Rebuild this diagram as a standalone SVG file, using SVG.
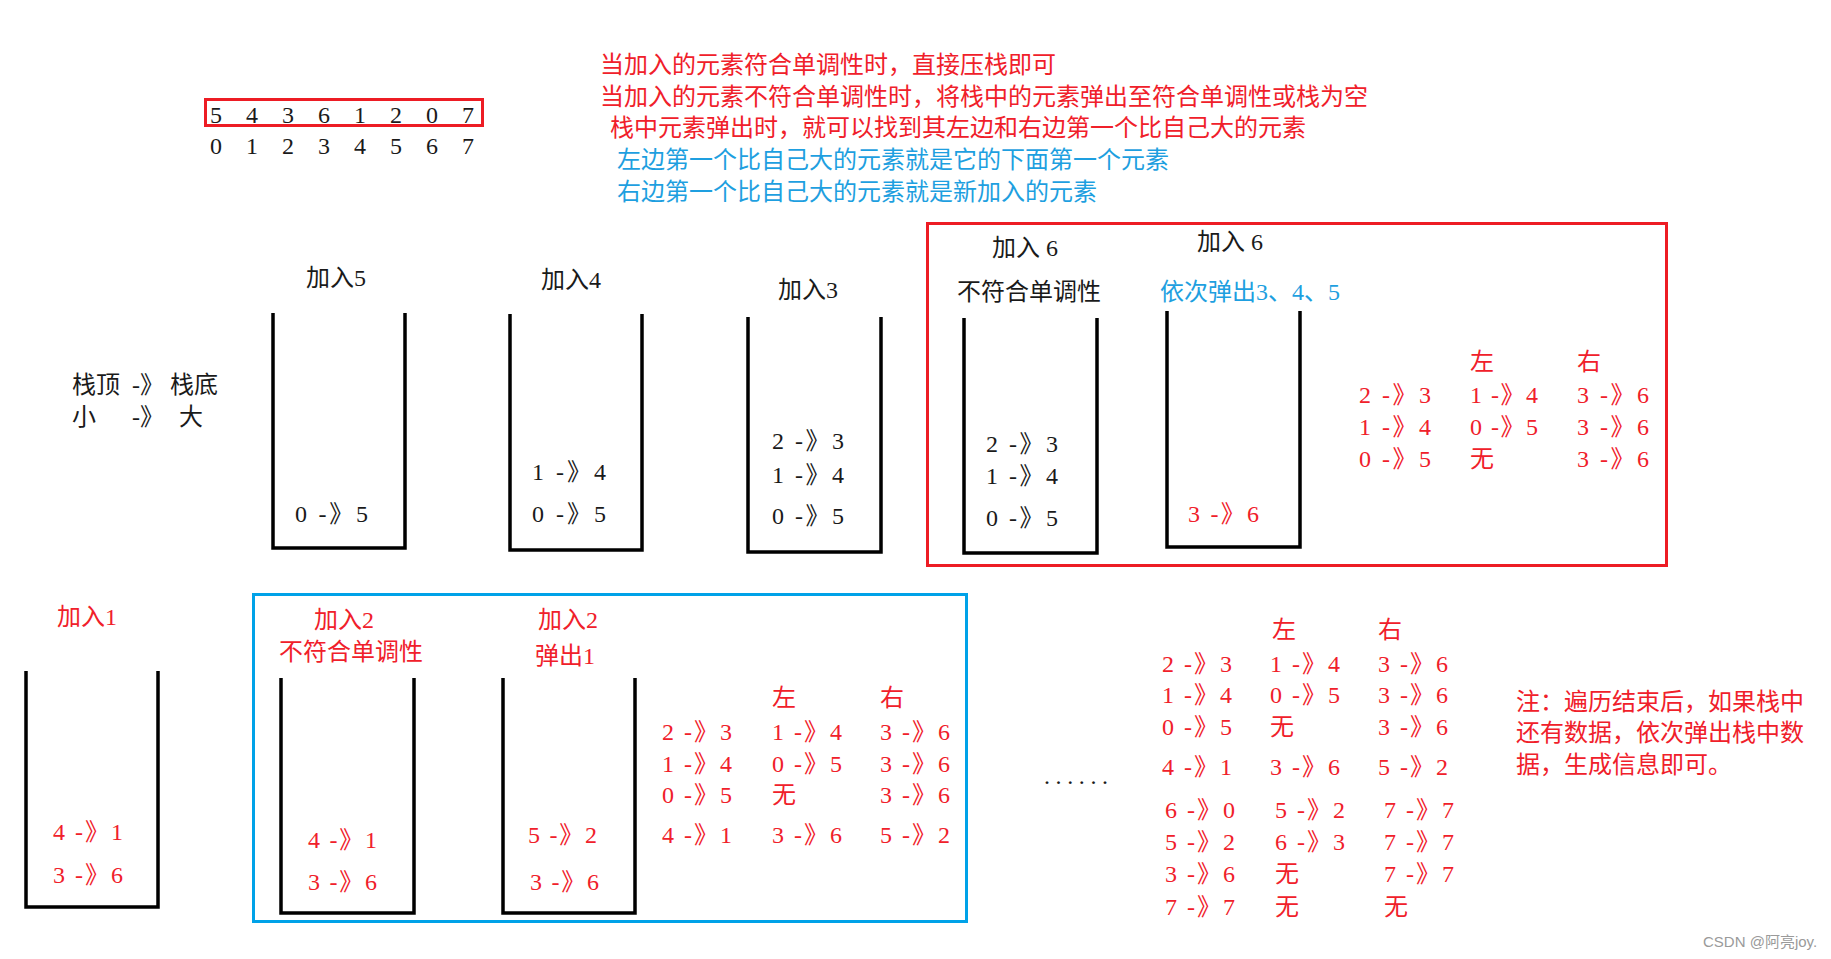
<svg xmlns="http://www.w3.org/2000/svg" width="1831" height="959" viewBox="0 0 1831 959">
<style>
text{font-family:"Liberation Serif","Noto Sans CJK SC",serif;font-size:24px;white-space:pre}
.k{fill:#1a1a1a}
.r{fill:#f0202a}
.b{fill:#1e9fe0}
.st{fill:none;stroke:#000;stroke-width:3.5}
.rb{fill:none;stroke:#ed1c24;stroke-width:3}
.bb{fill:none;stroke:#00a2e8;stroke-width:3}
.mid{text-anchor:middle}
.wm{fill:#9a9a9a;font-family:"Liberation Sans","Noto Sans CJK SC",sans-serif;font-size:15px}
</style>
<rect width="1831" height="959" fill="#fff"/>

<g id="sequence">
<rect class="rb" x="205.5" y="99.5" width="277" height="26"/>
<text class="k mid" y="123"><tspan x="216">5</tspan><tspan x="252">4</tspan><tspan x="288">3</tspan><tspan x="324">6</tspan><tspan x="360">1</tspan><tspan x="396">2</tspan><tspan x="432">0</tspan><tspan x="468">7</tspan></text>
<text class="k mid" y="154"><tspan x="216">0</tspan><tspan x="252">1</tspan><tspan x="288">2</tspan><tspan x="324">3</tspan><tspan x="360">4</tspan><tspan x="396">5</tspan><tspan x="432">6</tspan><tspan x="468">7</tspan></text>
</g>

<g id="notes-top">
<text class="r" x="600" y="73">当加入的元素符合单调性时，直接压栈即可</text>
<text class="r" x="600" y="105">当加入的元素不符合单调性时，将栈中的元素弹出至符合单调性或栈为空</text>
<text class="r" x="610" y="136">栈中元素弹出时，就可以找到其左边和右边第一个比自己大的元素</text>
<text class="b" x="617" y="168">左边第一个比自己大的元素就是它的下面第一个元素</text>
<text class="b" x="617" y="200">右边第一个比自己大的元素就是新加入的元素</text>
</g>

<g id="legend">
<text class="k" y="393"><tspan x="72">栈顶</tspan><tspan x="132">-》</tspan><tspan x="170">栈底</tspan></text>
<text class="k" y="425"><tspan x="72">小</tspan><tspan x="132">-》</tspan><tspan x="179">大</tspan></text>
</g>

<g id="stack-add5">
<text class="k" x="306" y="286">加入5</text>
<polyline class="st" points="273,313 273,548 405,548 405,313"/>
<text class="k" x="295" y="522" textLength="73" lengthAdjust="spacing">0 -》5</text>
</g>

<g id="stack-add4">
<text class="k" x="541" y="288">加入4</text>
<polyline class="st" points="510,314 510,550 642,550 642,314"/>
<text class="k" x="532" y="480" textLength="74" lengthAdjust="spacing">1 -》4</text>
<text class="k" x="532" y="522" textLength="74" lengthAdjust="spacing">0 -》5</text>
</g>

<g id="stack-add3">
<text class="k" x="778" y="298">加入3</text>
<polyline class="st" points="748,317 748,552 881,552 881,317"/>
<text class="k" x="772" y="449" textLength="72" lengthAdjust="spacing">2 -》3</text>
<text class="k" x="772" y="483" textLength="72" lengthAdjust="spacing">1 -》4</text>
<text class="k" x="772" y="524" textLength="72" lengthAdjust="spacing">0 -》5</text>
</g>

<g id="group-add6">
<rect class="rb" x="927.5" y="223.5" width="739" height="342"/>
</g>

<g id="stack-add6-a">
<text class="k" x="992" y="256">加入 6</text>
<text class="k" x="957" y="300">不符合单调性</text>
<polyline class="st" points="964,318 964,553 1097,553 1097,318"/>
<text class="k" x="986" y="452" textLength="72" lengthAdjust="spacing">2 -》3</text>
<text class="k" x="986" y="484" textLength="72" lengthAdjust="spacing">1 -》4</text>
<text class="k" x="986" y="526" textLength="72" lengthAdjust="spacing">0 -》5</text>
</g>

<g id="stack-add6-b">
<text class="k" x="1197" y="250">加入 6</text>
<text class="b" x="1160" y="300">依次弹出3、4、5</text>
<polyline class="st" points="1167,311 1167,547 1300,547 1300,311"/>
<text class="r" x="1188" y="522" textLength="71" lengthAdjust="spacing">3 -》6</text>
</g>

<g id="table-add6">
<text class="r" x="1470" y="370">左</text>
<text class="r" x="1577" y="370">右</text>
<text class="r" x="1359" y="403" textLength="72" lengthAdjust="spacing">2 -》3</text>
<text class="r" x="1470" y="403" textLength="68" lengthAdjust="spacing">1 -》4</text>
<text class="r" x="1577" y="403" textLength="72" lengthAdjust="spacing">3 -》6</text>
<text class="r" x="1359" y="435" textLength="72" lengthAdjust="spacing">1 -》4</text>
<text class="r" x="1470" y="435" textLength="68" lengthAdjust="spacing">0 -》5</text>
<text class="r" x="1577" y="435" textLength="72" lengthAdjust="spacing">3 -》6</text>
<text class="r" x="1359" y="467" textLength="72" lengthAdjust="spacing">0 -》5</text>
<text class="r" x="1470" y="467">无</text>
<text class="r" x="1577" y="467" textLength="72" lengthAdjust="spacing">3 -》6</text>
</g>

<g id="stack-add1">
<text class="r" x="57" y="625">加入1</text>
<polyline class="st" points="26,671 26,907 158,907 158,671"/>
<text class="r" x="53" y="840" textLength="70" lengthAdjust="spacing">4 -》1</text>
<text class="r" x="53" y="883" textLength="70" lengthAdjust="spacing">3 -》6</text>
</g>

<g id="group-add2">
<rect class="bb" x="253.5" y="594.5" width="713" height="327"/>
</g>

<g id="stack-add2-a">
<text class="r" x="314" y="628">加入2</text>
<text class="r" x="279" y="660">不符合单调性</text>
<polyline class="st" points="281,678 281,913 414,913 414,678"/>
<text class="r" x="308" y="848" textLength="69" lengthAdjust="spacing">4 -》1</text>
<text class="r" x="308" y="890" textLength="69" lengthAdjust="spacing">3 -》6</text>
</g>

<g id="stack-add2-b">
<text class="r" x="538" y="628">加入2</text>
<text class="r" x="535" y="664">弹出1</text>
<polyline class="st" points="503,678 503,913 635,913 635,678"/>
<text class="r" x="528" y="843" textLength="69" lengthAdjust="spacing">5 -》2</text>
<text class="r" x="530" y="890" textLength="69" lengthAdjust="spacing">3 -》6</text>
</g>

<g id="table-add2">
<text class="r" x="772" y="706">左</text>
<text class="r" x="880" y="706">右</text>
<text class="r" x="662" y="740" textLength="70" lengthAdjust="spacing">2 -》3</text>
<text class="r" x="772" y="740" textLength="70" lengthAdjust="spacing">1 -》4</text>
<text class="r" x="880" y="740" textLength="70" lengthAdjust="spacing">3 -》6</text>
<text class="r" x="662" y="772" textLength="70" lengthAdjust="spacing">1 -》4</text>
<text class="r" x="772" y="772" textLength="70" lengthAdjust="spacing">0 -》5</text>
<text class="r" x="880" y="772" textLength="70" lengthAdjust="spacing">3 -》6</text>
<text class="r" x="662" y="803" textLength="70" lengthAdjust="spacing">0 -》5</text>
<text class="r" x="772" y="803">无</text>
<text class="r" x="880" y="803" textLength="70" lengthAdjust="spacing">3 -》6</text>
<text class="r" x="662" y="843" textLength="70" lengthAdjust="spacing">4 -》1</text>
<text class="r" x="772" y="843" textLength="70" lengthAdjust="spacing">3 -》6</text>
<text class="r" x="880" y="843" textLength="70" lengthAdjust="spacing">5 -》2</text>
</g>

<g id="ellipsis">
<text class="k" x="1044" y="784" textLength="64" lengthAdjust="spacing">......</text>
</g>

<g id="table-final">
<text class="r" x="1272" y="638">左</text>
<text class="r" x="1378" y="638">右</text>
<text class="r" x="1162" y="672" textLength="70" lengthAdjust="spacing">2 -》3</text>
<text class="r" x="1270" y="672" textLength="70" lengthAdjust="spacing">1 -》4</text>
<text class="r" x="1378" y="672" textLength="70" lengthAdjust="spacing">3 -》6</text>
<text class="r" x="1162" y="703" textLength="70" lengthAdjust="spacing">1 -》4</text>
<text class="r" x="1270" y="703" textLength="70" lengthAdjust="spacing">0 -》5</text>
<text class="r" x="1378" y="703" textLength="70" lengthAdjust="spacing">3 -》6</text>
<text class="r" x="1162" y="735" textLength="70" lengthAdjust="spacing">0 -》5</text>
<text class="r" x="1270" y="735">无</text>
<text class="r" x="1378" y="735" textLength="70" lengthAdjust="spacing">3 -》6</text>
<text class="r" x="1162" y="775" textLength="70" lengthAdjust="spacing">4 -》1</text>
<text class="r" x="1270" y="775" textLength="70" lengthAdjust="spacing">3 -》6</text>
<text class="r" x="1378" y="775" textLength="70" lengthAdjust="spacing">5 -》2</text>
<text class="r" x="1165" y="818" textLength="70" lengthAdjust="spacing">6 -》0</text>
<text class="r" x="1275" y="818" textLength="70" lengthAdjust="spacing">5 -》2</text>
<text class="r" x="1384" y="818" textLength="70" lengthAdjust="spacing">7 -》7</text>
<text class="r" x="1165" y="850" textLength="70" lengthAdjust="spacing">5 -》2</text>
<text class="r" x="1275" y="850" textLength="70" lengthAdjust="spacing">6 -》3</text>
<text class="r" x="1384" y="850" textLength="70" lengthAdjust="spacing">7 -》7</text>
<text class="r" x="1165" y="882" textLength="70" lengthAdjust="spacing">3 -》6</text>
<text class="r" x="1275" y="882">无</text>
<text class="r" x="1384" y="882" textLength="70" lengthAdjust="spacing">7 -》7</text>
<text class="r" x="1165" y="915" textLength="70" lengthAdjust="spacing">7 -》7</text>
<text class="r" x="1275" y="915">无</text>
<text class="r" x="1384" y="915">无</text>
</g>

<g id="note-end">
<text class="r" x="1516" y="710">注：遍历结束后，如果栈中</text>
<text class="r" x="1516" y="741">还有数据，依次弹出栈中数</text>
<text class="r" x="1516" y="773">据，生成信息即可。</text>
</g>

<g id="connectors"></g>

<text class="wm" x="1703" y="947">CSDN @阿亮joy.</text>
</svg>
